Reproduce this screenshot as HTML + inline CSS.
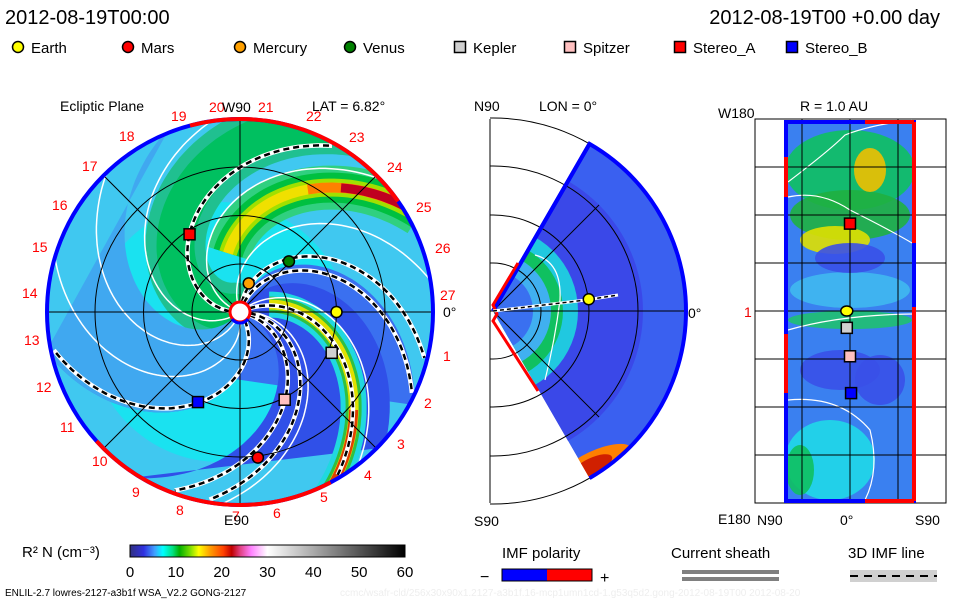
<!DOCTYPE html>
<html><head><meta charset="utf-8"><style>
html,body{margin:0;padding:0;background:#fff;}
svg{display:block;font-family:"Liberation Sans",sans-serif;}
</style></head><body>
<svg id="s" width="960" height="600" viewBox="0 0 960 600">
<defs>
<clipPath id="diskclip"><circle cx="240" cy="312" r="193"/></clipPath>
<clipPath id="wedgeclip"><path id="wedgepath" d=""/></clipPath>
<linearGradient id="cbar" x1="0" x2="1" y1="0" y2="0">
<stop offset="0" stop-color="#303080"/><stop offset="0.05" stop-color="#3030e0"/><stop offset="0.09" stop-color="#40a0ff"/>
<stop offset="0.12" stop-color="#00ffff"/><stop offset="0.155" stop-color="#00e080"/><stop offset="0.18" stop-color="#00b000"/>
<stop offset="0.22" stop-color="#80e000"/><stop offset="0.25" stop-color="#ffff00"/><stop offset="0.29" stop-color="#ffa000"/>
<stop offset="0.34" stop-color="#ff4000"/><stop offset="0.37" stop-color="#c00000"/><stop offset="0.40" stop-color="#e04080"/>
<stop offset="0.44" stop-color="#ff80ff"/><stop offset="0.5" stop-color="#ffffff"/><stop offset="1" stop-color="#000000"/>
</linearGradient>
</defs>
<text x="5" y="24" font-size="20">2012-08-19T00:00</text>
<text x="940" y="24" font-size="20" text-anchor="end">2012-08-19T00 +0.00 day</text>
<g id="legend"></g>

<g>
<text x="60" y="111" font-size="14">Ecliptic Plane</text>
<text x="312" y="111" font-size="14">LAT = 6.82°</text>
<g clip-path="url(#diskclip)" id="disk"></g>
<g id="diskover"></g>
</g>

<g>
<text x="474" y="111" font-size="14">N90</text>
<text x="539" y="111" font-size="14">LON = 0°</text>
<text x="474" y="526" font-size="14">S90</text>
<text x="688" y="318" font-size="14">0°</text>
<g id="mer"></g>
</g>

<g>
<text x="800" y="111" font-size="14">R = 1.0 AU</text>
<text x="718" y="118" font-size="14">W180</text>
<text x="718" y="524" font-size="14">E180</text>
<text x="757" y="525" font-size="14">N90</text>
<text x="840" y="525" font-size="14">0°</text>
<text x="915" y="525" font-size="14">S90</text>
<text x="744" y="317" font-size="14" fill="#e00">1</text>
<g id="rect"></g>
</g>

<g>
<text x="22" y="557" font-size="15">R² N (cm⁻³)</text>
<rect x="130" y="545" width="275" height="12" fill="url(#cbar)" stroke="#000"/>
<g id="cticks"></g>
</g>
<text x="5" y="596" font-size="10">ENLIL-2.7 lowres-2127-a3b1f WSA_V2.2 GONG-2127</text>
<text x="340" y="596" font-size="10" fill="#eee">ccmc/wsafr-cld/256x30x90x1.2127-a3b1f.16-mcp1umn1cd-1.g53q5d2.gong-2012-08-19T00  2012-08-20</text>

<g>
<text x="502" y="558" font-size="15">IMF polarity</text>
<text x="480" y="582" font-size="16">−</text>
<rect x="502" y="569" width="45" height="12" fill="#0000ff"/>
<rect x="547" y="569" width="45" height="12" fill="#ff0000"/>
<rect x="502" y="569" width="90" height="12" fill="none" stroke="#000"/>
<text x="600" y="583" font-size="16">+</text>
</g>
<g>
<text x="671" y="558" font-size="15">Current sheath</text>
<rect x="682" y="570" width="97" height="4" fill="#808080"/>
<rect x="682" y="577" width="97" height="4" fill="#808080"/>
</g>
<g>
<text x="848" y="558" font-size="15">3D IMF line</text>
<rect x="850" y="570" width="87" height="12" fill="#d0d0d0"/>
<line x1="850" y1="576" x2="937" y2="576" stroke="#000" stroke-width="2" stroke-dasharray="8,6"/>
</g>
</svg>
<script>
const NS="http://www.w3.org/2000/svg";
function mk(p,tag,at){const e=document.createElementNS(NS,tag);for(const k in at)e.setAttribute(k,at[k]);p.appendChild(e);return e;}
const $=id=>document.getElementById(id);

// ---- data ----
const bodyNames=["Earth","Mars","Mercury","Venus","Kepler","Spitzer","Stereo_A","Stereo_B"];
const bodyColors=["#ffff00","#ff0000","#ffa000","#008000","#d0d0d0","#ffc0c0","#ff0000","#0000ff"];
const bodyShapes=["circle","circle","circle","circle","square","square","square","square"];
const bodyR_AU=[1.0,1.52,0.31,0.73,1.04,1.02,0.96,1.03];
const bodyLonDeg=[0,-83,73,46,-24,-63,123,-115];
const rectLatDeg=[3,0,0,0,3,0,0,-1];   // x-position latitude in R=1 panel (deg)
const rectLonDeg=[0,0,0,0,-16,-43,83,-78]; // longitude in R=1 panel
const rectShow=[1,0,0,0,1,1,1,1];
const cbTicks=[0,10,20,30,40,50,60];

// legend
const lg=$("legend");
const legX=[18,128,240,350,460,570,680,792];
bodyNames.forEach((n,i)=>{
 let m;
 if(bodyShapes[i]==="circle") m=mk(lg,"circle",{cx:legX[i],cy:47,r:5.5,fill:bodyColors[i],stroke:"#000","stroke-width":1.5});
 else m=mk(lg,"rect",{x:legX[i]-5.5,y:41.5,width:11,height:11,fill:bodyColors[i],stroke:"#000","stroke-width":1.5});
 
 
 const t=mk(lg,"text",{x:legX[i]+13,y:53,"font-size":15});t.textContent=n;
 
 
});

// ---- ecliptic disk ----
const CX=240,CY=312,R=193,AU=96.5;
const d2r=Math.PI/180;
function pol(r,deg){return [CX+r*Math.cos(deg*d2r),CY-r*Math.sin(deg*d2r)];}
function spiral(phi0,b,r0,r1){ // r = b*(phi0-phi) (phi in rad)
 let pts=[];for(let r=r0;r<=r1;r+=3){const ph=phi0-(r/b)/d2r;pts.push(pol(r,ph));}
 return pts;}
function pstr(pts){return pts.map((p,i)=>(i?"L":"M")+p[0].toFixed(1)+" "+p[1].toFixed(1)).join("");}
const dk=$("disk");
mk(dk,"circle",{cx:CX,cy:CY,r:R,fill:"#40c8f0"});
// cyan inner region
mk(dk,"circle",{cx:CX-20,cy:CY+20,r:130,fill:"#10e8f0",opacity:0.8});
// green region spiral (left of center)
[[60,"#20c090"],[38,"#00c060"]].forEach(([w,c])=>mk(dk,"path",{d:pstr(spiral(190,95,5,220)),stroke:c,"stroke-width":w,fill:"none","stroke-linecap":"round"}));
// blue sector bottom-right
function sector(phA,bA,phB,bB,col){
 const a=spiral(phA,bA,0,200), bpts=spiral(phB,bB,0,200).reverse();
 mk(dk,"path",{d:pstr(a)+pstr(bpts).replace("M","L")+"Z",fill:col});}
sector(80,105,-55,100,"#3a70f0");
sector(-55,100,-130,95,"#40a8f0");
sector(60,110,-20,110,"#3050e8");
// top band green/yellow/red
[[44,"#30d080"],[30,"#00c040"],[18,"#a0e000"],[10,"#f0e000"]].forEach(([w,c])=>mk(dk,"path",{d:pstr(spiral(132,113,60,205)),stroke:c,"stroke-width":w,fill:"none"}));
mk(dk,"path",{d:pstr(spiral(132,113,140,205)),stroke:"#ff8000","stroke-width":10,fill:"none"});
mk(dk,"path",{d:pstr(spiral(132,113,160,205)),stroke:"#c00020","stroke-width":9,fill:"none"});
// lower-right band
[[26,"#20d8e0"],[16,"#30c040"],[10,"#e0e000"]].forEach(([w,c])=>mk(dk,"path",{d:pstr(spiral(28,125,30,205)),stroke:c,"stroke-width":w,fill:"none"}));
mk(dk,"path",{d:pstr(spiral(28,125,150,205)),stroke:"#e04000","stroke-width":9,fill:"none"});
// white solid spirals
[[160,95],[215,95],[110,110],[40,120],[5,110],[-80,95],[250,95]].forEach(([p,b])=>{
 const e=mk(dk,"path",{d:pstr(spiral(p,b,8,200)),stroke:"#fff","stroke-width":1.5,fill:"none"});});
// dashed IMF lines
[[182,90],[85,110],[72,112],[-12,111],[-2,112],[-55,96],[26,128]].forEach(([p,b],i)=>{
 const d=pstr(spiral(p,b,10,190));
 mk(dk,"path",{d:d,stroke:"#fff","stroke-width":4.5,fill:"none"});
 const e=mk(dk,"path",{d:d,stroke:"#000","stroke-width":2.5,fill:"none","stroke-dasharray":"6,4"});
 
 
});
// grid
[48,96.5,145].forEach(r=>mk(dk,"circle",{cx:CX,cy:CY,r:r,fill:"none",stroke:"#000","stroke-width":1}));
[0,45,90,135].forEach(a=>{const p=pol(R,a),q=pol(R,a+180);mk(dk,"line",{x1:p[0],y1:p[1],x2:q[0],y2:q[1],stroke:"#000","stroke-width":1});});
const ov=$("diskover");
// rim
mk(ov,"circle",{cx:CX,cy:CY,r:R,fill:"none",stroke:"#0000ff","stroke-width":4});
function arc(a0,a1,col){const p=pol(R,a0),q=pol(R,a1);const large=Math.abs(a1-a0)>180?1:0;
 mk(ov,"path",{d:`M${p[0]} ${p[1]} A${R} ${R} 0 ${large} 1 ${q[0]} ${q[1]}`,fill:"none",stroke:col,"stroke-width":4});}
arc(105,35,"#ff0000");arc(-62,-138,"#ff0000");
// sun
mk(ov,"circle",{cx:CX,cy:CY,r:10,fill:"#fff",stroke:"#ff0000","stroke-width":3});
mk(ov,"path",{d:`M${CX-8} ${CY+7} A10 10 0 0 0 ${CX+8} ${CY+7}`,stroke:"#0000ff","stroke-width":3,fill:"none"});
// labels
const lbl=[["19",171,121],["20",209,112],["21",258,112],["22",306,121],["23",349,142],["24",387,172],["25",416,212],["26",435,253],["27",440,300],["1",443,361],["2",424,408],["3",397,449],["4",364,480],["5",320,502],["6",273,518],["8",176,515],["9",132,497],["10",92,466],["11",60,432],["12",36,392],["13",24,345],["14",22,298],["15",32,252],["16",52,210],["17",82,171],["18",119,141],["7",232,521]];
lbl.forEach(([t,x,y])=>{const e=mk(ov,"text",{x:x,y:y,"font-size":14,fill:"#ff0000"});e.textContent=t;
 
 });
[["W90",222,112],["E90",224,525],["0°",443,317]].forEach(([t,x,y])=>{const e=mk(ov,"text",{x:x,y:y,"font-size":14});e.textContent=t;
 
 });
// planets
bodyNames.forEach((n,i)=>{
 const [x,y]=pol(bodyR_AU[i]*AU,bodyLonDeg[i]);let m;
 if(bodyShapes[i]==="circle") m=mk(ov,"circle",{cx:x,cy:y,r:5.5,fill:bodyColors[i],stroke:"#000","stroke-width":1.5});
 else m=mk(ov,"rect",{x:x-5.5,y:y-5.5,width:11,height:11,fill:bodyColors[i],stroke:"#000","stroke-width":1.5});
 
 
});

// ---- meridional wedge ----
const MX=493,MY=311,MR=193;
const me=$("mer");
function mp(r,deg){return [MX+r*Math.cos(deg*d2r),MY-r*Math.sin(deg*d2r)];}
const wa=mp(MR,60),wb=mp(MR,-60);
const wd=`M${MX} ${MY} L${wa[0]} ${wa[1]} A${MR} ${MR} 0 0 1 ${wb[0]} ${wb[1]} Z`;
$("wedgepath").setAttribute("d",wd);
const wg=mk(me,"g",{"clip-path":"url(#wedgeclip)"});
mk(wg,"path",{d:wd,fill:"#3a60f0"});
mk(wg,"circle",{cx:MX,cy:MY,r:150,fill:"#3a48e8"});
mk(wg,"circle",{cx:MX,cy:MY,r:85,fill:"#20c8e0"});
mk(wg,"circle",{cx:MX,cy:MY,r:70,fill:"#10c060"});
mk(wg,"circle",{cx:MX,cy:MY,r:58,fill:"#40b0f0"});
mk(wg,"circle",{cx:MX,cy:MY,r:40,fill:"#3a70f0"});
mk(wg,"ellipse",{cx:595,cy:465,rx:40,ry:14,fill:"#ff8000",transform:"rotate(-25 595 465)"});
mk(wg,"ellipse",{cx:592,cy:466,rx:22,ry:8,fill:"#d02000",transform:"rotate(-25 592 466)"});
mk(wg,"path",{d:"M535 255 Q562 262 560 300 Q555 340 545 380",stroke:"#fff","stroke-width":1.2,fill:"none"});
mk(me,"line",{x1:490,y1:119,x2:490,y2:503,stroke:"#000"});
[48,96,145,193].forEach(r=>mk(me,"path",{d:`M${MX} ${MY-r} A${r} ${r} 0 0 1 ${MX} ${MY+r}`,fill:"none",stroke:"#000"}));
[48,96,145,193].forEach(r=>{mk(me,"line",{x1:490,y1:MY-r,x2:MX,y2:MY-r,stroke:"#000"});mk(me,"line",{x1:490,y1:MY+r,x2:MX,y2:MY+r,stroke:"#000"});});
mk(me,"line",{x1:490,y1:MY,x2:685,y2:MY,stroke:"#000"});
[45,-45].forEach(a=>{const p=mp(150,a);mk(me,"line",{x1:MX,y1:MY,x2:p[0],y2:p[1],stroke:"#000"});});
mk(me,"path",{d:wd.replace("Z",""),fill:"none",stroke:"#0000ff","stroke-width":4});
mk(me,"line",{x1:MX,y1:MY,x2:wa[0],y2:wa[1],stroke:"#0000ff","stroke-width":4});
mk(me,"path",{d:`M${MX+25} ${MY-48} L${MX} ${MY-6} L${MX+4} ${MY+3} L${MX} ${MY+10} L${MX+45} ${MY+80}`,fill:"none",stroke:"#ff0000","stroke-width":3});
mk(me,"path",{d:`M${MX} ${MY} L586 ${MY-11} L618 ${MY-16}`,fill:"none",stroke:"#fff","stroke-width":3});
mk(me,"path",{d:`M${MX} ${MY} L586 ${MY-11} L618 ${MY-16}`,fill:"none",stroke:"#000","stroke-width":1.5,"stroke-dasharray":"4,3"});
{const e=mk(me,"circle",{cx:MX+bodyR_AU[0]*AU*Math.cos(7*d2r),cy:MY-bodyR_AU[0]*AU*Math.sin(7*d2r),r:5.5,fill:bodyColors[0],stroke:"#000","stroke-width":1.5});
 
 }

// ---- R=1 AU rectangle ----
const rc=$("rect");
const RX0=786,RX1=914,RY0=122,RY1=501;
const lonY=l=>311-l*(RY1-RY0)/360*1.0; // -180..180 -> y
const latX=l=>850-l*(RX1-RX0)/120;
mk(rc,"rect",{x:755,y:119,width:191,height:384,fill:"#fff",stroke:"#000"});
mk(rc,"rect",{x:RX0,y:RY0,width:RX1-RX0,height:RY1-RY0,fill:"#3a80f0"});
const blobs=[[850,170,65,40,"#10c060"],[850,215,60,25,"#20b040"],[835,240,35,14,"#e0e000"],[870,170,16,22,"#f0c000"],[850,290,60,18,"#40b8f0"],[850,320,62,9,"#20c070"],[840,370,40,20,"#3a50e8"],[880,380,25,25,"#3a50e8"],[830,460,45,40,"#20d8e8"],[800,470,14,25,"#10c060"],[850,258,35,15,"#3a50e8"]];
blobs.forEach(([x,y,rx,ry,c])=>mk(rc,"ellipse",{cx:x,cy:y,rx:rx,ry:ry,fill:c,opacity:0.9}));
mk(rc,"path",{d:"M788 182 Q830 150 845 135 Q870 125 912 120",stroke:"#fff","stroke-width":1.2,fill:"none"});
mk(rc,"path",{d:"M788 197 Q820 190 850 210 Q890 230 912 243",stroke:"#fff","stroke-width":1.2,fill:"none"});
mk(rc,"path",{d:"M788 330 Q840 315 912 314",stroke:"#fff","stroke-width":1.2,fill:"none"});
mk(rc,"path",{d:"M788 400 Q840 395 870 430 Q880 470 865 500",stroke:"#fff","stroke-width":1.2,fill:"none"});
[802,850,898].forEach(x=>mk(rc,"line",{x1:x,y1:119,x2:x,y2:503,stroke:"#000"}));
[167,215,263,311,359,407,455].forEach(y=>mk(rc,"line",{x1:755,y1:y,x2:946,y2:y,stroke:"#000"}));
mk(rc,"rect",{x:RX0,y:RY0,width:RX1-RX0,height:RY1-RY0,fill:"none",stroke:"#0000ff","stroke-width":4});
mk(rc,"line",{x1:RX1,y1:RY0,x2:RX1,y2:243,stroke:"#ff0000","stroke-width":4});
mk(rc,"line",{x1:RX1,y1:307,x2:RX1,y2:RY1,stroke:"#ff0000","stroke-width":4});
mk(rc,"line",{x1:865,y1:RY0,x2:RX1,y2:RY0,stroke:"#ff0000","stroke-width":4});
mk(rc,"line",{x1:865,y1:RY1,x2:RX1,y2:RY1,stroke:"#ff0000","stroke-width":4});
mk(rc,"line",{x1:RX0,y1:157,x2:RX0,y2:197,stroke:"#ff0000","stroke-width":4});
mk(rc,"line",{x1:RX0,y1:334,x2:RX0,y2:393,stroke:"#ff0000","stroke-width":4});
bodyNames.forEach((n,i)=>{
 if(!rectShow[i])return;
 const x=latX(rectLatDeg[i]),y=lonY(rectLonDeg[i]);let m;
 if(bodyShapes[i]==="circle") m=mk(rc,"ellipse",{cx:x,cy:y,rx:6,ry:5,fill:bodyColors[i],stroke:"#000","stroke-width":1.5});
 else m=mk(rc,"rect",{x:x-5.5,y:y-5.5,width:11,height:11,fill:bodyColors[i],stroke:"#000","stroke-width":1.5});
 
 
});

// colorbar ticks
const ct=$("cticks");
cbTicks.forEach(v=>{const x=130+v/60*275;
 const t=mk(ct,"text",{x:x,y:577,"font-size":15,"text-anchor":"middle"});t.textContent=v;
 
 });
</script>
</body></html>
